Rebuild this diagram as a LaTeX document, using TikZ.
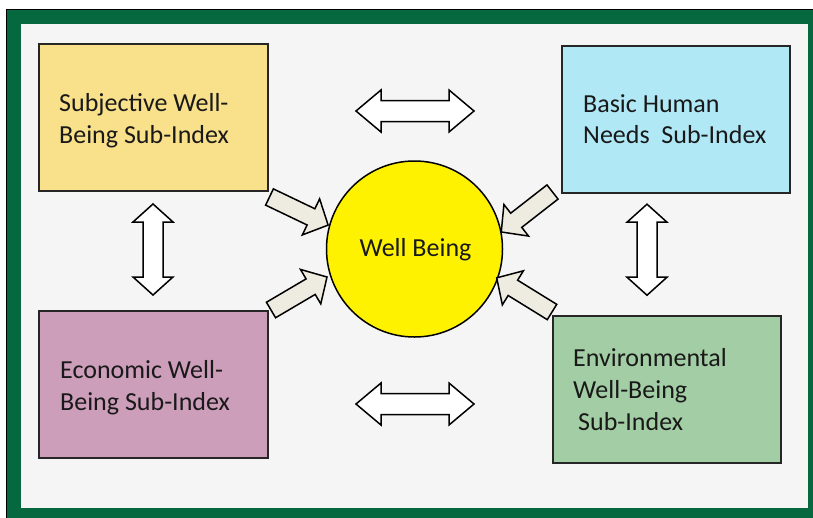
\documentclass[tikz,border=0pt]{standalone}
\usepackage{fontspec}
\setmainfont{Carlito}
\definecolor{framegreen}{RGB}{5,104,62}
\definecolor{bgray}{RGB}{245,245,245}
\definecolor{subjcol}{RGB}{249,224,138}
\definecolor{basiccol}{RGB}{176,232,246}
\definecolor{econcol}{RGB}{205,158,186}
\definecolor{envcol}{RGB}{163,205,164}
\definecolor{arrowcol}{RGB}{238,236,225}
\tikzset{
  box/.style={draw=black!85, line width=1.5pt, rectangle, inner sep=0pt},
  txt/.style={font=\fontsize{26}{31}\selectfont, inner sep=0pt, anchor=base west, text=black!90},
  blockarrow/.style={draw=black, line width=1.5pt, fill=arrowcol, line join=miter},
  dblarrow/.style={draw=black, line width=1.5pt, fill=white, line join=miter},
  pics/singlearrow/.style={code={
    \draw[blockarrow] (0,-9) -- (46,-9) -- (46,-20) -- (65,0) -- (46,20) -- (46,9) -- (0,9) -- cycle;}},
  pics/hdouble/.style={code={
    \draw[dblarrow] (-59,0) -- (-34,21) -- (-34,10.5) -- (34,10.5) -- (34,21) -- (59,0)
      -- (34,-21) -- (34,-10.5) -- (-34,-10.5) -- (-34,-21) -- cycle;}},
  pics/vdouble/.style={code={
    \draw[dblarrow] (0,-45.5) -- (20,-27.5) -- (10,-27.5) -- (10,27.5) -- (20,27.5) -- (0,45.5)
      -- (-20,27.5) -- (-10,27.5) -- (-10,-27.5) -- (-20,-27.5) -- cycle;}}
}
\begin{document}
\begin{tikzpicture}[x=1pt,y=-1pt]
\useasboundingbox (0,0) rectangle (813,517);
\fill[white] (0,0) rectangle (813,517);
% frame
\fill[framegreen] (6.5,9.5) rectangle (830,530);
\draw[black, line width=1.2pt] (6.5,9.5) rectangle (830,530);
\fill[bgray] (21,24) rectangle (808,508);

% boxes
\node[box, fill=subjcol, minimum width=229pt, minimum height=147pt] (subj) at (153.5,117.5) {};
\node[box, fill=basiccol, minimum width=228pt, minimum height=147pt] (basic) at (676,119.5) {};
\node[box, fill=econcol, minimum width=229pt, minimum height=147pt] (econ) at (153.5,384.5) {};
\node[box, fill=envcol, minimum width=228pt, minimum height=147pt] (env) at (667,389.5) {};
\node[circle, draw=black, line width=1.5pt, fill=yellow, minimum size=176pt, inner sep=0pt] (wb) at (414.5,249) {};

% texts
\node[txt] (subj1) at (59,111) {Subjective Well-};
\node[txt] (subj2) at (59,143) {Being Sub-Index};
\node[txt] (basic1) at (583,112) {Basic Human};
\node[txt] (basic2) at (583,143) {Needs\ \ Sub-Index};
\node[txt] (econ1) at (60,378) {Economic Well-};
\node[txt] (econ2) at (60,410) {Being Sub-Index};
\node[txt] (env1) at (573,366) {Environmental};
\node[txt] (env2) at (573,398) {Well-Being};
\node[txt] (env3) at (578,430) {Sub-Index};
\node[txt, anchor=base] (wbt) at (415.5,256) {Well Being};

% single block arrows
\pic[rotate=-25.6] at (269.5,197) {singlearrow};
\pic[rotate=-142.05] at (552.5,192) {singlearrow};
\pic[rotate=30.5] at (271,310) {singlearrow};
\pic[rotate=148.3] at (552,312) {singlearrow};

% double arrows
\pic at (415,111) {hdouble};
\pic at (415,404) {hdouble};
\pic at (153,249.5) {vdouble};
\pic at (647,249.7) {vdouble};
\end{tikzpicture}
\end{document}
